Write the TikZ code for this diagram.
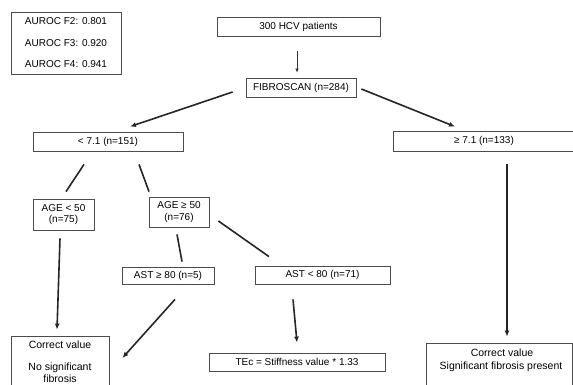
\documentclass[tikz,border=0pt]{standalone}
\usepackage{fontspec}
\setmainfont{Liberation Sans}
\usetikzlibrary{arrows.meta,calc}
\begin{document}
\begin{tikzpicture}[x=1pt,y=-1pt,
  box/.style={draw=black!70, line width=0.8pt, rectangle, inner sep=0pt, align=center,
              font=\fontsize{10}{11.5}\selectfont},
  txt/.style={inner sep=0pt, align=center, font=\fontsize{10.5}{11.5}\selectfont},
  conn/.style={draw=black!85, line width=1.6pt},
  arr/.style={conn, -{Latex[length=6pt,width=5pt]}},
  thinarr/.style={draw=black!80, line width=0.7pt, -{Latex[length=4pt,width=3.5pt]}}]
\clip (0,0) rectangle (573,385);
\fill[white] (0,0) rectangle (573,385);

\node[box, minimum width=110, minimum height=62] (auroc) at (66,43)
  {AUROC F2: 0.801\\[10pt]AUROC F3: 0.920\\[10pt]AUROC F4: 0.941};
\node[box, minimum width=163, minimum height=19] (hcv) at (298.5,27) {300 HCV patients};
\node[box, minimum width=110, minimum height=19] (fibro) at (301,87.5) {FIBROSCAN (n=284)};
\node[box, minimum width=150, minimum height=19] (lt) at (108,141.5) {< 7.1 (n=151)};
\node[box, minimum width=182, minimum height=20] (ge) at (484,141) {≥ 7.1 (n=133)};
\node[box, minimum width=61, minimum height=31] (age50) at (63.5,214.5) {AGE < 50\\(n=75)};
\node[box, minimum width=60, minimum height=30] (agege) at (179,212) {AGE ≥ 50\\(n=76)};
\node[box, minimum width=92, minimum height=17] (astge) at (168,275.5) {AST ≥ 80 (n=5)};
\node[box, minimum width=135, minimum height=18] (astlt) at (322.5,275) {AST < 80 (n=71)};
\node[box, minimum width=176, minimum height=18] (tec) at (297,362) {TEc = Stiffness value * 1.33};
\node[box, minimum width=98, minimum height=54] (cvl) at (60,363) {};
\node[txt] (cvlA) at (60,345) {Correct value};
\node[txt] (cvlB) at (60,372.5) {No significant\\fibrosis};
\node[box, minimum width=146, minimum height=52] (cvr) at (499,369) {};
\node[txt] (cvrA) at (502,352.5) {Correct value};
\node[txt] (cvrB) at (501,366.5) {Significant fibrosis present};

\draw[thinarr, shorten <=14pt, shorten >=5pt] (hcv.south -| 297,0) -- (fibro.north -| 297,0);
\draw[arr] ($(fibro.west)+(-13,4.5)$) -- ($(lt.north)+(22,-5)$);
\draw[arr] ($(fibro.east)+(5,1.5)$) -- ($(ge.north)+(-29,-4)$);
\draw[conn] ($(lt.south)+(-24,13)$) -- ($(age50.north)+(2.5,-7)$);
\draw[conn] ($(lt.south)+(31,13)$) -- ($(agege.north)+(-30,-5)$);
\draw[arr] ($(age50.south)+(-3.5,8)$) -- ($(cvl.north)+(-3,-6)$);
\draw[conn] ($(agege.south)+(-2,7)$) -- ($(astge.north)+(14,-5)$);
\draw[conn] ($(agege.east)+(9,9)$) -- ($(astlt.north)+(-53.5,-9)$);
\draw[arr] ($(astge.south)+(7,15)$) -- ($(cvl.east)+(13,-5)$);
\draw[arr] ($(astlt.south)+(-29.5,15)$) -- ($(tec.north)+(0,-10)$);
\draw[arr] ($(ge.south)+(23,13)$) -- ($(cvr.north)+(8,-6)$);
\end{tikzpicture}
\end{document}
